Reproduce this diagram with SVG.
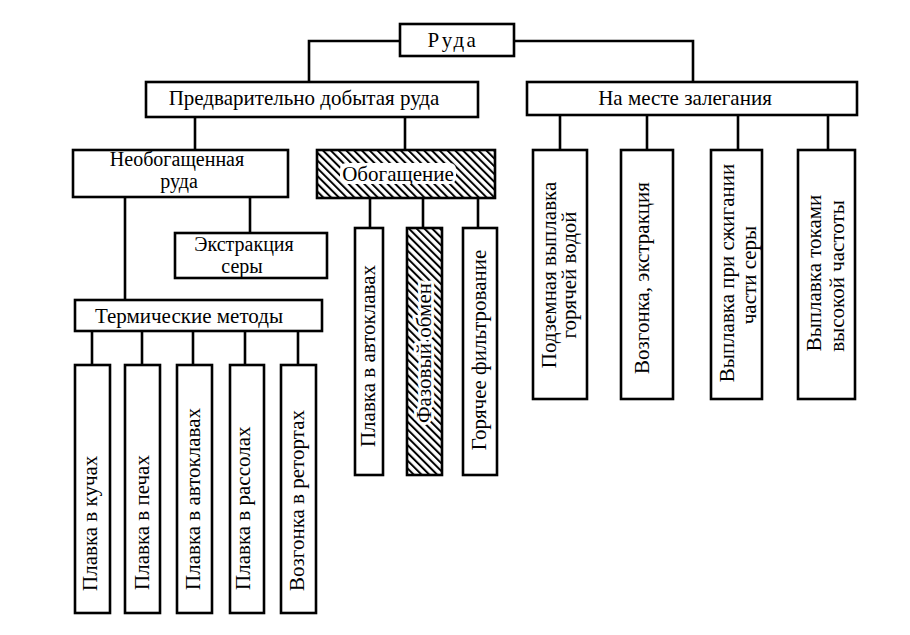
<svg xmlns="http://www.w3.org/2000/svg" width="910" height="635" viewBox="0 0 910 635">
<style>
.box{fill:#fff;stroke:#000;stroke-width:2.6}
.hb{fill:url(#hatch);stroke:#000;stroke-width:2.6}
.c{fill:none;stroke:#000;stroke-width:2.6}
text{font-family:"Liberation Serif","Times New Roman",serif;font-size:21px;fill:#000}
.m{text-anchor:middle}
.s{font-size:20px}
.halo{paint-order:stroke;stroke:#fff;stroke-width:6px;stroke-linejoin:round}
</style>
<defs>
<pattern id="hatch" width="5.5" height="5.5" patternUnits="userSpaceOnUse" patternTransform="rotate(-45)">
<rect width="5.5" height="5.5" fill="#fff"/>
<line x1="1" y1="0" x2="1" y2="5.5" stroke="#000" stroke-width="2"/>
</pattern>
</defs>
<rect width="910" height="635" fill="#fff"/>
<g id="connectors">
<path class="c" d="M400,41H309V82"/>
<path class="c" d="M514,41H693V82"/>
<path class="c" d="M195,117V150"/>
<path class="c" d="M405,117V150"/>
<path class="c" d="M560,115V150M647,115V150M738,115V150M828,115V150"/>
<path class="c" d="M250,197V233"/>
<path class="c" d="M125,197V300"/>
<path class="c" d="M92,331V365M142,331V365M193,331V365M245,331V365M298,331V365"/>
<path class="c" d="M370,198V228M423,198V228M478,198V228"/>
</g>
<g id="ruda"><rect class="box" x="400" y="24" width="114" height="32"/><text class="m" x="453" y="47" letter-spacing="2.5">Руда</text></g>
<g id="pred"><rect class="box" x="146" y="82" width="332" height="35"/><text class="m" x="304" y="105">Предварительно добытая руда</text></g>
<g id="namest"><rect class="box" x="527" y="82" width="330" height="33"/><text class="m" x="685" y="105">На месте залегания</text></g>
<g id="neobog"><rect class="box" x="73" y="150" width="215" height="47"/><text class="m s" x="177" y="166">Необогащенная</text><text class="m s" x="179" y="188">руда</text></g>
<g id="obog"><rect class="hb" x="317" y="150" width="178" height="48"/><rect x="340" y="163" width="116" height="21" rx="6" fill="#fff"/><text class="m" x="398" y="181">Обогащение</text></g>
<g id="ekstr"><rect class="box" x="175" y="233" width="152" height="45"/><text class="m s" x="244" y="251">Экстракция</text><text class="m s" x="242" y="273">серы</text></g>
<g id="term"><rect class="box" x="75" y="300" width="247" height="31"/><text class="m" x="189" y="323">Термические методы</text></g>
<g id="t1"><rect class="box" x="75" y="365" width="35" height="248"/><text transform="translate(97,591) rotate(-90)">Плавка в кучах</text></g>
<g id="t2"><rect class="box" x="125" y="365" width="35" height="248"/><text transform="translate(149,590) rotate(-90)">Плавка в печах</text></g>
<g id="t3"><rect class="box" x="177" y="365" width="35" height="248"/><text transform="translate(200,590) rotate(-90)">Плавка в автоклавах</text></g>
<g id="t4"><rect class="box" x="230" y="365" width="34" height="248"/><text transform="translate(250,590) rotate(-90)">Плавка в рассолах</text></g>
<g id="t5"><rect class="box" x="281" y="365" width="35" height="248"/><text transform="translate(304,591) rotate(-90)">Возгонка в ретортах</text></g>
<g id="oA"><rect class="box" x="355" y="228" width="28" height="247"/><text class="m" transform="translate(375,356) rotate(-90)">Плавка в автоклавах</text></g>
<g id="oB"><rect class="hb" x="407" y="228" width="35" height="247"/><text class="m halo" transform="translate(431,353) rotate(-90)">Фазовый обмен</text></g>
<g id="oC"><rect class="box" x="463" y="228" width="34" height="247"/><text class="m" transform="translate(486,350) rotate(-90)">Горячее фильтрование</text></g>
<g id="r1"><rect class="box" x="533" y="150" width="54" height="249"/><text class="m" transform="translate(556,275) rotate(-90)">Подземная выплавка</text><text class="m" transform="translate(576,275) rotate(-90)">горячей водой</text></g>
<g id="r2"><rect class="box" x="621" y="150" width="52" height="249"/><text class="m" transform="translate(649,278) rotate(-90)">Возгонка, экстракция</text></g>
<g id="r3"><rect class="box" x="711" y="150" width="51" height="249"/><text class="m" transform="translate(734,273) rotate(-90)">Выплавка при сжигании</text><text class="m" transform="translate(756,275) rotate(-90)">части серы</text></g>
<g id="r4"><rect class="box" x="798" y="150" width="57" height="249"/><text class="m" transform="translate(821,273) rotate(-90)">Выплавка токами</text><text class="m" transform="translate(844,276) rotate(-90)">высокой частоты</text></g>
</svg>
